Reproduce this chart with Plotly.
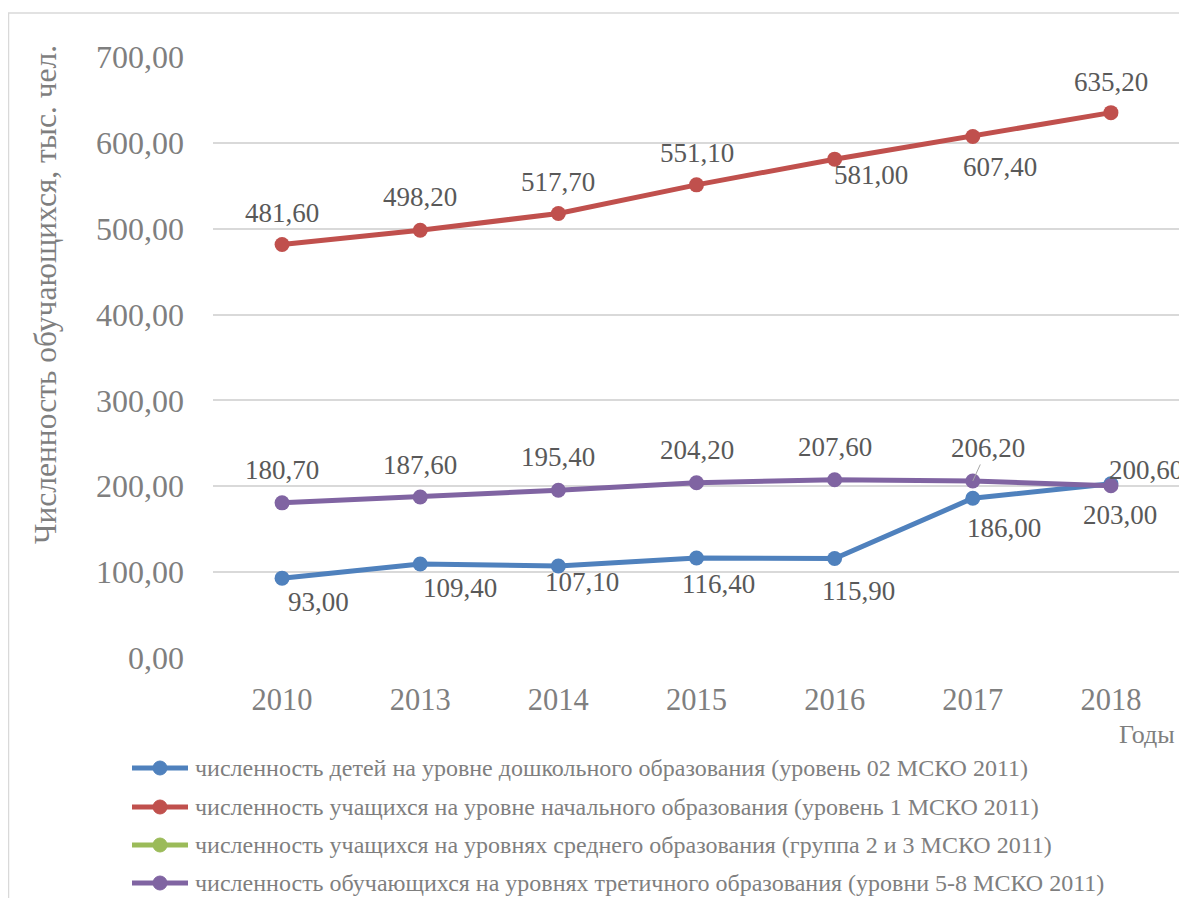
import plotly.graph_objects as go

# ---- data ----
years = ["2010", "2013", "2014", "2015", "2016", "2017", "2018"]
preschool = [93.00, 109.40, 107.10, 116.40, 115.90, 186.00, 203.00]
primary = [481.60, 498.20, 517.70, 551.10, 581.00, 607.40, 635.20]
secondary = [None, None, None, None, None, None, None]
tertiary = [180.70, 187.60, 195.40, 204.20, 207.60, 206.20, 200.60]

names = [
    "численность детей на уровне дошкольного образования (уровень 02 МСКО 2011)",
    "численность учащихся на уровне начального образования (уровень 1 МСКО 2011)",
    "численность учащихся на уровнях среднего образования (группа 2 и 3 МСКО 2011)",
    "численность обучающихся на уровнях третичного образования (уровни 5-8 МСКО 2011)",
]
y_title = "Численность обучающихся, тыс. чел."
x_title = "Годы"

# ---- style ----
colors = ["#4F81BD", "#C0504D", "#9BBB59", "#8064A2"]
FONT = "Liberation Serif, Times New Roman, serif"
OFF = 8  # page body margin
W, H = 1187 - OFF, 898 - OFF
ML, MR, MT, MB = 213 - OFF, 7, 57 - OFF, 898 - 658
PW, PH = W - ML - MR, H - MT - MB

# label offsets (pixels: dx right, dy down) per series
label_offsets = {
    0: [(36, 24), (40, 24), (24, 16), (22, 26), (24, 33), (31, 30), (9, 31)],
    1: [(0, -32), (0, -33), (0, -32), (0, -32), (36, 16), (27, 30), (0, -31)],
    3: [(0, -33), (0, -32), (0, -33), (0, -33), (0, -33), (15, -33), (35, -16)],
}

def px2paper(px, py):
    # px, py in reference-page pixels
    return (px - OFF - ML) / PW, (H - MB - (py - OFF)) / PH

fig = go.Figure()
series = [preschool, primary, secondary, tertiary]
for i, (vals, name) in enumerate(zip(series, names)):
    fig.add_trace(go.Scatter(
        x=years, y=vals, name=name, mode="lines+markers",
        line=dict(color=colors[i], width=5),
        marker=dict(color=colors[i], size=15),
        hoverinfo="skip", showlegend=False,
    ))

def fmt(v):
    return f"{v:.2f}".replace(".", ",")

LABEL_FONT = dict(family=FONT, size=27, color="#595959")
annotations = []
for i, offs in label_offsets.items():
    vals = series[i]
    for j, v in enumerate(vals):
        dx, dy = offs[j]
        if i == 3 and years[j] == "2017":
            annotations.append(dict(
                x=j, y=v, xref="x", yref="y", text=fmt(v),
                showarrow=True, arrowhead=0, arrowwidth=1, arrowcolor="#A6A6A6",
                ax=dx, ay=dy, standoff=0, font=LABEL_FONT,
            ))
        else:
            annotations.append(dict(
                x=j, y=v, xref="x", yref="y", text=fmt(v),
                showarrow=False, xshift=dx, yshift=-dy,
                xanchor="center", yanchor="middle", font=LABEL_FONT,
            ))

# axis titles
tx, ty = px2paper(45, 295)
annotations.append(dict(
    x=tx, y=ty, xref="paper", yref="paper", text=y_title, textangle=-90,
    showarrow=False, xanchor="center", yanchor="middle",
    font=dict(family=FONT, size=31.5, color="#7F7F7F"),
))
gx, gy = px2paper(1147, 735)
annotations.append(dict(
    x=gx, y=gy, xref="paper", yref="paper", text=x_title,
    showarrow=False, xanchor="center", yanchor="middle",
    font=dict(family=FONT, size=26, color="#7F7F7F"),
))

shapes = []
# chart border
bx0, by0 = px2paper(OFF + 0.5, 13)
bx1, by1 = px2paper(1205, 915)
shapes.append(dict(type="rect", xref="paper", yref="paper", x0=bx0, y0=by1, x1=bx1, y1=by0,
                   line=dict(color="#D9D9D9", width=1.5), layer="below"))

# legend (drawn manually)
legend_rows = [768, 807, 845, 883]
for i, name in enumerate(names):
    ry = legend_rows[i]
    lx0, ly = px2paper(132, ry)
    lx1, _ = px2paper(188, ry)
    mx, _ = px2paper(160, ry)
    tx0, _ = px2paper(193, ry)
    shapes.append(dict(type="line", xref="paper", yref="paper", x0=lx0, x1=lx1, y0=ly, y1=ly,
                       line=dict(color=colors[i], width=5)))
    shapes.append(dict(type="circle", xref="paper", yref="paper",
                       xsizemode="pixel", ysizemode="pixel", xanchor=mx, yanchor=ly,
                       x0=-7, x1=7, y0=-7, y1=7,
                       fillcolor=colors[i], line=dict(color=colors[i], width=1)))
    annotations.append(dict(
        x=tx0, y=ly, xref="paper", yref="paper", text=name, showarrow=False,
        xanchor="left", yanchor="middle",
        font=dict(family=FONT, size=24, color="#7F7F7F"),
    ))

fig.update_layout(
    width=W, height=H,
    margin=dict(l=ML, r=MR, t=MT, b=MB),
    paper_bgcolor="white", plot_bgcolor="white",
    separators=", ",
    font=dict(family=FONT, color="#7F7F7F"),
    showlegend=False,
    xaxis=dict(
        type="category", range=[-0.5, 6.5], showgrid=False, zeroline=False,
        showline=False, ticks="", ticklabelstandoff=20, automargin=False,
        tickfont=dict(family=FONT, size=30.5, color="#7F7F7F"),
    ),
    yaxis=dict(
        range=[0, 700], dtick=100, tickformat=".2f", showgrid=True,
        gridcolor="#D9D9D9", gridwidth=1.5, zeroline=False, showline=False,
        ticks="", ticklabelstandoff=28, automargin=False,
        tickfont=dict(family=FONT, size=32, color="#7F7F7F"),
    ),
    annotations=annotations,
    shapes=shapes,
)

fig.write_html("out.html")
